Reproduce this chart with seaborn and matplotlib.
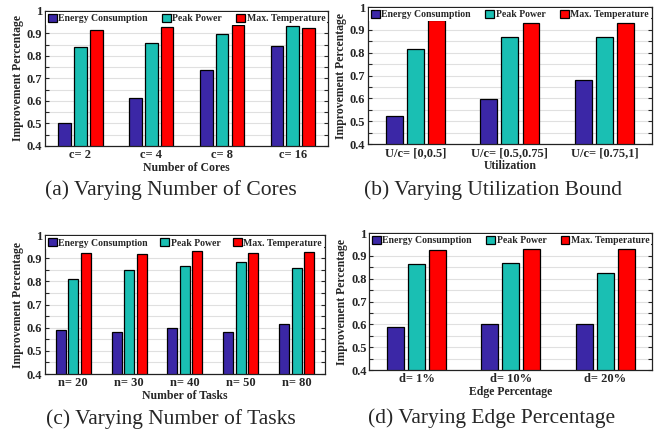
import pandas as pd
import numpy as np
import matplotlib
matplotlib.use("Agg")
import matplotlib.pyplot as plt
import seaborn as sns
from matplotlib.ticker import MultipleLocator

sns.set_style("white")
plt.rcParams['font.family'] = ['Liberation Serif', 'DejaVu Serif']

metrics = ["Energy Consumption", "Peak Power", "Max. Temperature"]
colors = ["#3b27a6", "#1abfb3", "#ff0000"]

# (a) number of cores
cores_labels = ["c= 2", "c= 4", "c= 8", "c= 16"]
cores_energy = [0.502, 0.612, 0.736, 0.846]
cores_peak = [0.839, 0.856, 0.899, 0.933]
cores_temp = [0.915, 0.928, 0.938, 0.926]

# (b) utilization bound
util_labels = ["U/c= [0,0.5]", "U/c= [0.5,0.75]", "U/c= [0.75,1]"]
util_energy = [0.523, 0.599, 0.682]
util_peak = [0.818, 0.868, 0.868]
util_temp = [0.945, 0.932, 0.932]

# (c) number of tasks
tasks_labels = ["n= 20", "n= 30", "n= 40", "n= 50", "n= 80"]
tasks_energy = [0.589, 0.580, 0.600, 0.580, 0.615]
tasks_peak = [0.812, 0.850, 0.868, 0.883, 0.857]
tasks_temp = [0.922, 0.920, 0.932, 0.922, 0.929]

# (d) edge percentage
edge_labels = ["d= 1%", "d= 10%", "d= 20%"]
edge_energy = [0.588, 0.600, 0.603]
edge_peak = [0.864, 0.868, 0.825]
edge_temp = [0.925, 0.932, 0.929]


def make_df(labels, energy, peak, temp):
    rows = []
    for vals, m in zip([energy, peak, temp], metrics):
        for lab, v in zip(labels, vals):
            rows.append({"cat": lab, "metric": m, "value": v})
    return pd.DataFrame(rows)


fig = plt.figure(figsize=(6.63, 4.38), dpi=100)

# axes rect, caption centre (x, y) in figure fractions
panels = [
    (cores_labels, cores_energy, cores_peak, cores_temp, "Number of Cores",
     "(a) Varying Number of Cores", [0.068, 0.667, 0.427, 0.308], (0.257, 0.566)),
    (util_labels, util_energy, util_peak, util_temp, "Utilization",
     "(b) Varying Utilization Bound", [0.555, 0.671, 0.428, 0.313], (0.744, 0.566)),
    (tasks_labels, tasks_energy, tasks_peak, tasks_temp, "Number of Tasks",
     "(c) Varying Number of Tasks", [0.068, 0.146, 0.422, 0.317], (0.257, 0.043)),
    (edge_labels, edge_energy, edge_peak, edge_temp, "Edge Percentage",
     "(d) Varying Edge Percentage", [0.557, 0.155, 0.427, 0.313], (0.742, 0.045)),
]

for labels, en, pk, tp, xlab, caption, rect, cpos in panels:
    ax = fig.add_axes(rect)
    df = make_df(labels, en, pk, tp)
    sns.barplot(data=df, x="cat", y="value", hue="metric", palette=colors,
                saturation=1, width=0.67, gap=0.2, edgecolor="black",
                linewidth=0.9, ax=ax)
    ax.set_ylim(0.4, 1.0)
    ax.set_xlim(-0.5, len(labels) - 0.5)
    ax.yaxis.set_minor_locator(MultipleLocator(0.05))
    ax.set_yticks(np.arange(0.4, 1.01, 0.1))
    ax.set_yticklabels(["0.4", "0.5", "0.6", "0.7", "0.8", "0.9", "1"])
    ax.grid(True, which="both", axis="y", color="#e0e0e0", linewidth=0.8)
    ax.set_axisbelow(True)
    ax.tick_params(axis="y", which="both", direction="in", left=True, right=True,
                   length=3, width=0.8, labelsize=9, pad=2)
    ax.tick_params(axis="x", length=0, labelsize=9, pad=2)
    for t in ax.get_xticklabels() + ax.get_yticklabels():
        t.set_fontweight("bold")
    for s in ax.spines.values():
        s.set_color("#222222")
        s.set_linewidth(0.9)
    ax.set_xlabel(xlab, fontsize=8.5, fontweight="bold", labelpad=1)
    ax.set_ylabel("Improvement Percentage", fontsize=8.5, fontweight="bold", labelpad=2)
    leg = ax.legend(loc="upper left", bbox_to_anchor=(0, 1.0, 1, 0.0), mode="expand",
                    ncol=3, frameon=True, fancybox=False,
                    framealpha=1, facecolor="white", edgecolor="none",
                    handlelength=0.9, handleheight=0.9, handletextpad=0.15,
                    borderpad=0.2, borderaxespad=0.1, columnspacing=0.5,
                    prop={"weight": "bold", "size": 7})
    leg.set_zorder(5)
    fig.text(cpos[0], cpos[1], caption, ha="center", va="center", fontsize=15.5)

fig.savefig("out.png", dpi=100)
